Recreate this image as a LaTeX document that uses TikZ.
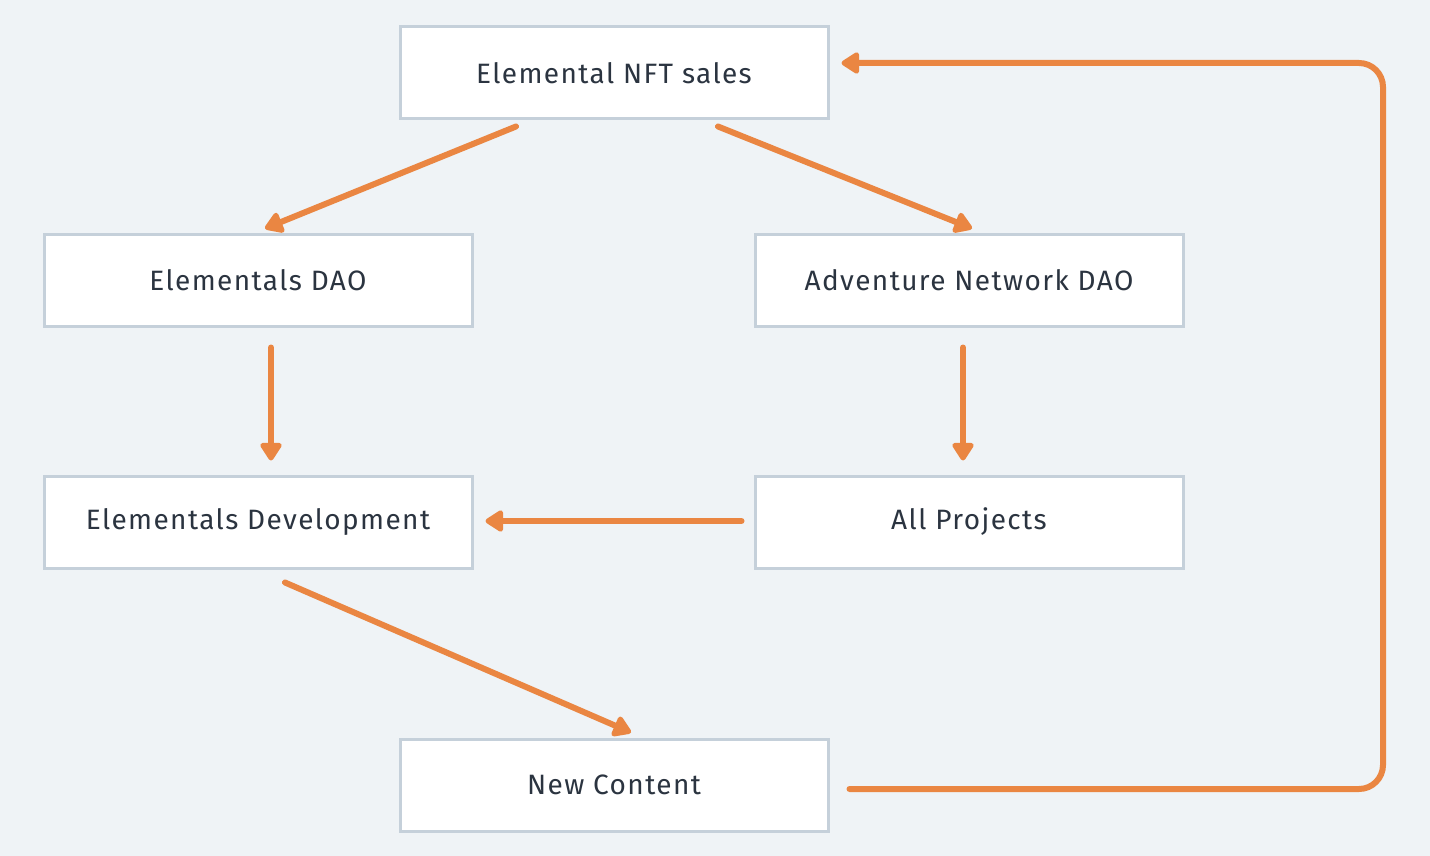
\documentclass[tikz,border=0pt]{standalone}
\usepackage{fontspec}
\setmainfont{Fira Sans}[LetterSpace=5]
\usetikzlibrary{arrows.meta,calc}
\definecolor{bg}{HTML}{EFF3F6}
\definecolor{boxline}{HTML}{C5D0DA}
\definecolor{flow}{HTML}{EA8642}
\definecolor{txt}{HTML}{2B3440}
\tikzset{
  stepbox/.style={draw=boxline, line width=3pt, fill=white, minimum width=428pt, minimum height=92pt, inner sep=0pt, text=txt, font=\fontsize{28}{32}\selectfont},
  flowarrow/.style={draw=flow, line width=6pt, line cap=round, -{Triangle[length=20pt,width=24pt,round]}}
}
\begin{document}
\begin{tikzpicture}[x=1pt,y=-1pt]
\fill[bg] (0,0) rectangle (1430,856);
\useasboundingbox (0,0) rectangle (1430,856);
\node[stepbox] (nft) at (614,73) {Elemental NFT sales};
\node[stepbox] (dao) at (258,280) {Elementals DAO};
\node[stepbox] (and) at (969,280) {Adventure Network DAO};
\node[stepbox] (dev) at (258,522) {Elementals Development};
\node[stepbox] (ap) at (969,522) {All Projects};
\node[stepbox] (nc) at (614,785) {New Content};
\draw[flowarrow] ($(nft.south)+(-98,6)$) -- ($(dao.north)+(7,-4)$);
\draw[flowarrow] ($(nft.south)+(104,6)$) -- ($(and.north)+(3,-4)$);
\draw[flowarrow] ($(dao.south)+(13,20)$) -- ($(dev.north)+(13,-14)$);
\draw[flowarrow] ($(and.south)+(-6,20)$) -- ($(ap.north)+(-6,-14)$);
\draw[flowarrow] ($(ap.west)+(-12,-1)$) -- ($(dev.east)+(12,-1)$);
\draw[flowarrow] ($(dev.south)+(27,13)$) -- ($(nc.north)+(17,-5)$);
\draw[flowarrow, rounded corners=24pt] ($(nc.east)+(20,4)$) -- (1383,789) -- (1383,63) -- ($(nft.east)+(12,-10)$);
\end{tikzpicture}
\end{document}
